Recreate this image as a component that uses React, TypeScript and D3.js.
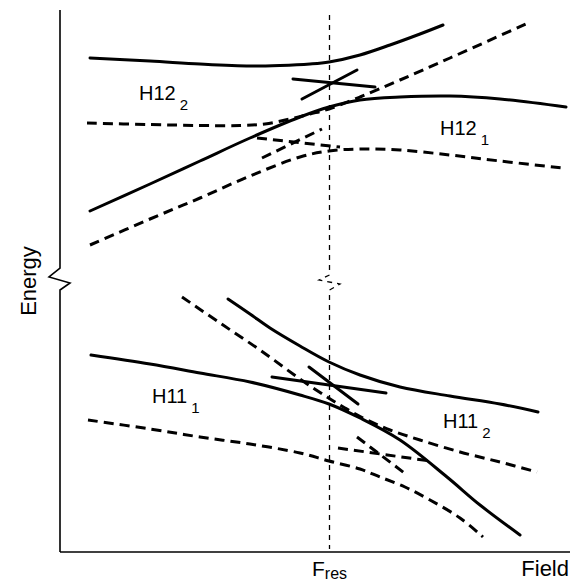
import React from "react";
import * as d3 from "d3";

type P = [number, number];

// Field (x) and Energy (y) in schematic units
const solidUpperA: P[] = [[30,494],[90,491],[140,488],[190,486],[220,486.5],[250,488],[269,490],[300,497],[330,507],[360,518],[383,527]];
const solidUpperB: P[] = [[30,341],[90,368],[140,391],[190,414],[240,435],[269,445],[300,452],[340,455],[390,456],[440,453],[506,445]];
const dashedUpper1: P[] = [[27,429],[90,427.5],[140,426.5],[180,426.5],[205,428],[230,433],[250,438],[269,443],[300,455],[340,472],[390,494],[468,529]];
const dashedUpper2: P[] = [[30,307],[90,333],[140,354],[190,376],[240,395],[269,401],[300,403],[340,402],[390,397],[440,391],[503,384]];
const crossSolidUpper: P[][] = [[[233,473],[315,465]],[[242,453],[297,482]]];
const crossDashedUpper: P[][] = [[[197,414],[280,405]],[[202,394],[262,423]]];

const solidLowerD: P[] = [[168,253],[190,238],[210,224],[240,206],[269,190],[300,177],[340,165],[390,156],[440,148],[478,140]];
const solidLowerE: P[] = [[31,197],[90,188],[140,179],[190,170],[240,157],[269,148],[300,134],[340,112],[387,75],[420,47],[460,17]];
const dashedLowerF: P[] = [[122,255],[160,229],[200,202],[240,173],[267,155],[285,144],[305,133],[330,122],[360,112],[400,100],[440,90],[477,80]];
const dashedLowerG: P[] = [[28,132],[90,123],[140,115],[190,108],[240,99],[269,91],[300,83],[320,75],[345,65],[370,52],[400,34],[423,15]];
const crossSolidLower: P[][] = [[[212,175],[326,159]],[[249,185],[298,148]]];
const crossDashedLower: P[][] = [[[297,115],[347,77]],[[278,104],[370,91]]];

const yAxisPath: P[] = [[0,542],[0,284],[-11,275],[10,269],[0,262],[0,0]];
const xAxisPath: P[] = [[0,0],[510,0]];
const fresLine: P[] = [[269.5,537],[269.5,277],[259,272],[280,268],[269.5,262],[269.5,3]];

const stateLabels = [
  { name: "H12", sub: "2" },
  { name: "H12", sub: "1" },
  { name: "H11", sub: "1" },
  { name: "H11", sub: "2" },
];
const axisLabels = { x: "Field", y: "Energy", fres: "F", fresSub: "res" };

const W = 575, H = 583;
const x = d3.scaleLinear().domain([0, 510]).range([60, 570]);
const y = d3.scaleLinear().domain([0, 542]).range([552, 10]);

const smooth = d3.line<P>().x(d => x(d[0])).y(d => y(d[1])).curve(d3.curveCatmullRom.alpha(0.5));
const straight = d3.line<P>().x(d => x(d[0])).y(d => y(d[1]));

const SOLID = { stroke: "#000", strokeWidth: 3, fill: "none", strokeLinecap: "round" as const };
const DASHED = { stroke: "#000", strokeWidth: 3, fill: "none", strokeDasharray: "10,6" };

const labelPos = [
  { x: 139, y: 100 },
  { x: 440, y: 135 },
  { x: 152, y: 403 },
  { x: 443, y: 428 },
];

export default function App() {
  const font = "'Liberation Sans', Arial, Helvetica, sans-serif";
  return (
    <svg width={W} height={H} style={{ position: "absolute", left: 0, top: 0, background: "#fff" }} fontFamily={font}>
      <rect x={0} y={0} width={W} height={H} fill="#fff" />
      {/* axes */}
      <path d={straight(yAxisPath) || ""} stroke="#000" strokeWidth={1.6} fill="none" />
      <path d={straight(xAxisPath) || ""} stroke="#000" strokeWidth={1.6} fill="none" />
      {/* resonance field line */}
      <path d={straight(fresLine) || ""} stroke="#000" strokeWidth={1.3} fill="none" strokeDasharray="5,5" />

      {/* upper panel */}
      <path d={smooth(solidUpperA) || ""} {...SOLID} />
      <path d={smooth(solidUpperB) || ""} {...SOLID} />
      <path d={smooth(dashedUpper1) || ""} {...DASHED} />
      <path d={smooth(dashedUpper2) || ""} {...DASHED} />
      {crossSolidUpper.map((s, i) => <path key={"csu" + i} d={straight(s) || ""} {...SOLID} />)}
      {crossDashedUpper.map((s, i) => <path key={"cdu" + i} d={straight(s) || ""} {...DASHED} />)}

      {/* lower panel */}
      <path d={smooth(solidLowerD) || ""} {...SOLID} />
      <path d={smooth(solidLowerE) || ""} {...SOLID} />
      <path d={smooth(dashedLowerF) || ""} {...DASHED} />
      <path d={smooth(dashedLowerG) || ""} {...DASHED} />
      {crossSolidLower.map((s, i) => <path key={"csl" + i} d={straight(s) || ""} {...SOLID} />)}
      {crossDashedLower.map((s, i) => <path key={"cdl" + i} d={straight(s) || ""} {...DASHED} />)}

      {/* state labels */}
      {stateLabels.map((l, i) => (
        <text key={"lab" + i} x={labelPos[i].x} y={labelPos[i].y} fontSize={20} fill="#000">
          {l.name}
          <tspan dx={4} dy={10} fontSize={15}>{l.sub}</tspan>
        </text>
      ))}

      {/* axis labels */}
      <text transform="translate(36,281) rotate(-90)" textAnchor="middle" fontSize={22} fill="#000">{axisLabels.y}</text>
      <text x={569} y={576} textAnchor="end" fontSize={22} fill="#000">{axisLabels.x}</text>
      <text x={312} y={576} fontSize={21} fill="#000">
        {axisLabels.fres}
        <tspan dx={0} dy={3} fontSize={16}>{axisLabels.fresSub}</tspan>
      </text>
    </svg>
  );
}
